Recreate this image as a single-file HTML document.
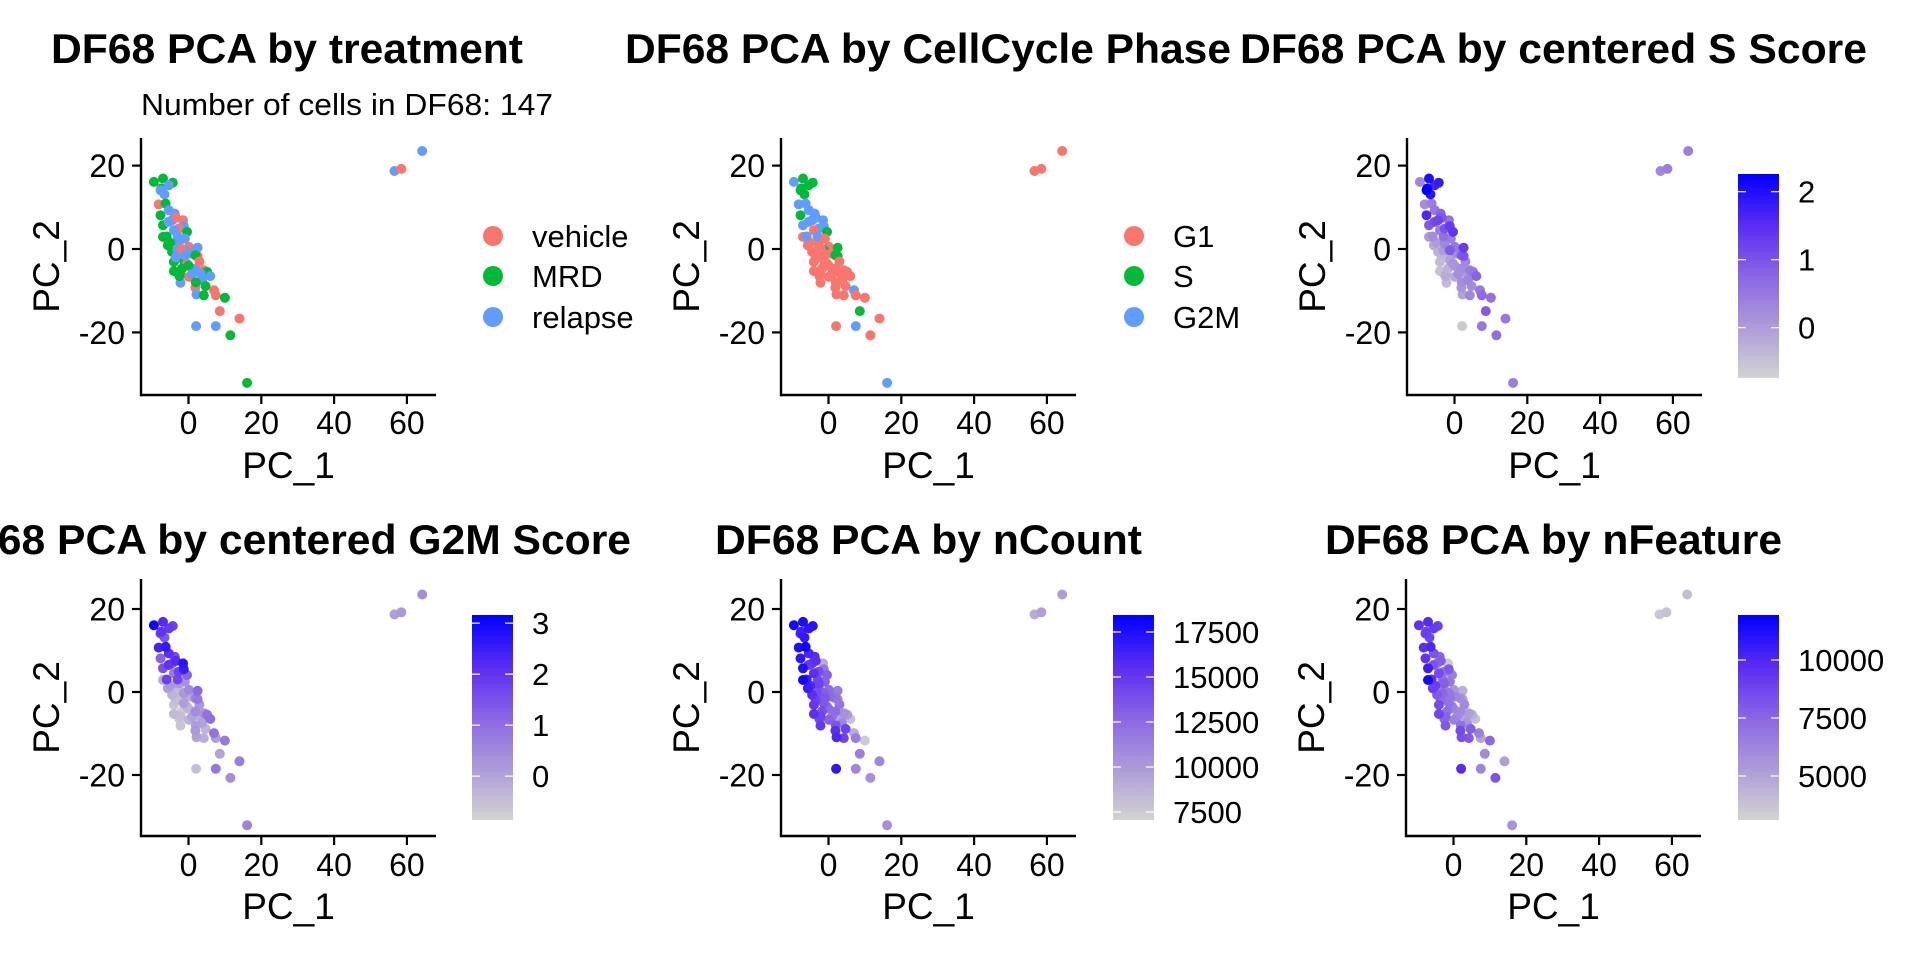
<!DOCTYPE html>
<html><head><meta charset="utf-8">
<style>
html,body{margin:0;padding:0;background:#fff;}
svg{display:block;font-family:"Liberation Sans",Arial,sans-serif;}
</style></head>
<body>
<svg id="fig" width="1920" height="960" viewBox="0 0 1920 960" xmlns="http://www.w3.org/2000/svg">
<defs>
<linearGradient id="grad" x1="0" y1="1" x2="0" y2="0">
<stop offset="0" stop-color="#d3d3d3"/>
<stop offset="0.25" stop-color="#ad9bd9"/>
<stop offset="0.5" stop-color="#8a66e4"/>
<stop offset="0.75" stop-color="#5a2cf2"/>
<stop offset="1" stop-color="#0000ff"/>
</linearGradient>
</defs>
</svg>
<script>
// ---- data (per cell) ----
const pc1 = [-9.5,-7,-4.3,-7.5,-7.7,-6.6,-5.4,-8.2,-6.3,-7.7,-5.4,-3.8,-4.5,-7,-1.5,-1.3,-2.7,-4,-7,-0.4,-2.7,-5.7,-2.7,0.1,-4.5,-1.3,2.5,-3.1,0.5,2.5,1.9,-4,-1.3,-0.4,-4,-1.8,1.9,4.2,5.1,3.3,-2.2,6,0.1,3.7,-2.2,1.9,4.7,7,2.2,4.2,7.5,10,8.6,14,2.1,7.5,11.5,16.1,56.6,58.5,64.2,-3,-2,-1,0,-3.5,1,-2.5,-5,-6,-3.5,-5.5,2,3,-1];
const pc2 = [16.1,16.9,15.9,14.5,14.1,13.1,15.3,10.7,10.9,8.1,9.3,8.5,6.9,5.7,6.9,5.5,4.9,4.5,2.9,4.1,2.1,0.9,1.3,0.5,-0.7,-0.3,0.3,-0.3,-1.1,-1.7,-1.5,-3.1,-2.7,-3.5,-5.3,-4.7,-4.7,-5.1,-5.5,-5.9,-5.9,-6.5,-6.7,-7.5,-8.1,-9.3,-8.9,-9.9,-10.9,-11.1,-11.1,-11.7,-14.9,-16.7,-18.5,-18.5,-20.7,-32.1,18.7,19.2,23.5,3,0,-1.5,-4,-2,-6,-6.5,1.5,3,7.5,6.5,-8,-3,2.5];
const treatment = ["MRD","MRD","MRD","MRD","relapse","relapse","relapse","vehicle","MRD","MRD","relapse","relapse","relapse","MRD","vehicle","relapse","vehicle","relapse","MRD","MRD","vehicle","MRD","relapse","vehicle","MRD","relapse","relapse","relapse","relapse","vehicle","MRD","MRD","MRD","vehicle","MRD","MRD","relapse","vehicle","MRD","relapse","MRD","relapse","vehicle","relapse","relapse","vehicle","MRD","vehicle","relapse","MRD","vehicle","MRD","vehicle","vehicle","relapse","relapse","MRD","MRD","relapse","vehicle","relapse","relapse","vehicle","relapse","MRD","relapse","relapse","MRD","MRD","MRD","vehicle","relapse","MRD","vehicle","relapse"];
const phase = ["G2M","S","S","S","S","S","S","G2M","G2M","S","G2M","G2M","G2M","G2M","G2M","G2M","G2M","G1","G1","S","G1","G1","G1","G1","G1","S","S","G1","G1","S","S","G1","G1","G1","G1","G1","G1","G1","G1","G1","G1","G1","G1","G1","G1","G1","G1","G2M","G1","G1","G1","G1","S","G1","G1","G2M","G1","G2M","G1","G1","G1","G2M","G1","G1","G1","G1","G1","G1","G1","G2M","G2M","G2M","G1","G1","G1"];
const sScore = [0.3,2.0,1.8,2.2,2.3,1.9,1.7,0.2,0.4,1.6,0.5,0.8,1.2,0.9,0.6,1.3,1.0,0.4,0.0,1.4,0.1,-0.2,0.3,0.5,-0.3,0.9,1.3,0.0,0.2,1.0,0.8,-0.4,-0.1,0.1,-0.5,-0.3,0.2,0.4,0.5,0.0,-0.3,0.8,-0.2,0.3,-0.4,0.1,0.2,0.5,-0.1,0.3,0.7,0.6,0.9,0.5,-0.6,0.5,0.6,0.4,0.3,0.4,0.4,0.6,0.1,-0.2,0.1,-0.4,0.2,-0.2,0.0,0.2,0.9,1.1,0.2,0.3,0.4];
const g2mScore = [3.0,2.2,1.8,2.0,1.6,1.4,1.9,2.4,2.6,1.2,2.1,1.6,1.3,1.5,2.7,2.5,1.8,0.8,-0.2,1.2,0.2,0.0,-0.4,0.5,-0.3,0.2,1.1,-0.5,-0.2,0.8,0.6,-0.6,0.1,-0.3,-0.4,-0.7,0.4,0.3,0.9,-0.2,-0.5,1.0,-0.3,0.0,-0.6,0.2,-0.3,0.9,0.0,-0.2,0.1,0.8,0.0,0.7,-0.5,0.8,0.4,0.6,0.1,0.2,0.4,1.7,-0.4,-0.5,-0.3,-0.5,0.0,-0.7,0.2,1.8,2.2,2.0,0.1,0.2,0.3];
const nCount = [17800,17600,17200,16500,16000,16800,17000,17500,18000,17000,16000,15500,15000,17500,9000,12000,14000,15500,18000,13000,14500,16500,13500,12500,15500,13000,11500,14000,12500,11000,12000,15000,13500,12000,15500,14000,12500,10500,10000,9500,14500,8000,13000,11000,15000,15500,14500,9000,16000,14500,11500,7500,11500,11000,17000,11000,10500,10500,9000,9700,9800,14000,13000,13500,12500,14500,12000,14000,16000,16500,15500,15000,13500,12000,13000];
const nFeature = [9500,9800,9000,8800,9000,8700,9200,9600,10000,9400,8200,7500,6500,10500,3500,8000,7000,8500,11500,6500,7800,9000,6000,5500,8000,6800,4500,7500,6200,5000,5800,8500,7000,6500,8800,7200,6000,5200,4500,5000,7600,3800,6300,5500,8000,8600,7800,6500,8300,8000,5000,7500,6000,5200,9800,6200,8200,5600,3600,3800,4000,7000,6500,6800,6200,7300,6000,7500,9000,9500,7800,8200,7000,6000,6800];

const xTicks = [0,20,40,60];
const yTicks = [20,0,-20];
const sTicks = [0,1,2];
const g2mTicks = [0,1,2,3];
const countTicks = [7500,10000,12500,15000,17500];
const featureTicks = [5000,7500,10000];
const treatLevels = ["vehicle","MRD","relapse"];
const phaseLevels = ["G1","S","G2M"];
const sLimits = [-0.74,2.26];
const g2mLimits = [-0.86,3.16];
const countLimits = [7056,18444];
const featureLimits = [3103,11940];

// ---- layout ----
const NS = "http://www.w3.org/2000/svg";
const svg = document.getElementById('fig');
const pal = ["#F8766D","#00BA38","#619CFF"];
function mk(tag, attrs, parent){ const e=document.createElementNS(NS,tag); for(const k in attrs) e.setAttribute(k,attrs[k]); (parent||svg).appendChild(e); return e; }
function lerp(a,b,t){return a+(b-a)*t;}
const stops=[[0,[211,211,211]],[0.25,[173,155,217]],[0.5,[138,102,228]],[0.75,[90,44,242]],[1,[0,0,255]]];
function grad(t){ t=Math.max(0,Math.min(1,t)); for(let i=1;i<stops.length;i++){ if(t<=stops[i][0]){ const a=stops[i-1],b=stops[i]; const u=(t-a[0])/(b[0]-a[0]); return 'rgb('+a[1].map((c,j)=>Math.round(lerp(c,b[1][j],u))).join(',')+')'; } } return 'rgb(0,0,255)'; }

const rows = [{xAxisY:395, zeroY:249, yScale:4.17, top:138, titleY:63, tickLabY:434, axTitleY:478},
              {xAxisY:836, zeroY:692, yScale:4.15, top:579, titleY:554, tickLabY:876, axTitleY:919}];
const panels = [
 {name:'treatment', row:0, ax:141, title:'DF68 PCA by treatment', tx:51, tw:472, kind:'cat', vals:treatment, levels:treatLevels, legX:493},
 {name:'cellcycle', row:0, ax:781, title:'DF68 PCA by CellCycle Phase', tx:625, tw:606, kind:'cat', vals:phase, levels:phaseLevels, legX:1134},
 {name:'s-score', row:0, ax:1407, title:'DF68 PCA by centered S Score', tx:1240, tw:627, kind:'cont', vals:sScore, lim:sLimits, ticks:sTicks, barX:1738},
 {name:'g2m-score', row:1, ax:141, title:'DF68 PCA by centered G2M Score', tx:-59, tw:690, kind:'cont', vals:g2mScore, lim:g2mLimits, ticks:g2mTicks, barX:472},
 {name:'ncount', row:1, ax:781, title:'DF68 PCA by nCount', tx:715, tw:427, kind:'cont', vals:nCount, lim:countLimits, ticks:countTicks, barX:1113},
 {name:'nfeature', row:1, ax:1406, title:'DF68 PCA by nFeature', tx:1325, tw:457, kind:'cont', vals:nFeature, lim:featureLimits, ticks:featureTicks, barX:1738}
];
const XS = 3.64;

panels.forEach((p)=>{
  const r = rows[p.row];
  const g = mk('g',{});
  
  
  const x0 = p.ax + 47.5;
  const xs = v => x0 + v*XS;
  const ys = v => r.zeroY - v*r.yScale;
  const right = p.ax + 295;
  const t = mk('text',{x:p.tx, y:r.titleY, 'font-size':42, 'font-weight':'bold', textLength:p.tw, lengthAdjust:'spacingAndGlyphs', fill:'#000'}, g);
  t.textContent = p.title;
  
  
  if(p.name==='treatment'){
    const st = mk('text',{x:141, y:115, 'font-size':31, textLength:412, lengthAdjust:'spacingAndGlyphs'}, g);
    st.textContent = 'Number of cells in DF68: 147';
    
    
  }
  const pts = mk('g',{}, g);
  
  
  let order = pc1.map((_,i)=>i);
  if(p.kind==='cont') order.sort((a,b)=>p.vals[a]-p.vals[b]);
  order.forEach(i=>{
    let col;
    if(p.kind==='cat') col = pal[p.levels.indexOf(p.vals[i])];
    else col = grad((p.vals[i]-p.lim[0])/(p.lim[1]-p.lim[0]));
    const c = mk('circle',{cx:xs(pc1[i]).toFixed(1), cy:ys(pc2[i]).toFixed(1), r:5, fill:col}, pts);
    
    
  });
  const xa = mk('line',{x1:p.ax, x2:right, y1:r.xAxisY, y2:r.xAxisY, stroke:'#000', 'stroke-width':2.4}, g);
  
  
  const ya = mk('line',{x1:p.ax, x2:p.ax, y1:r.top, y2:r.xAxisY+1.2, stroke:'#000', 'stroke-width':2.4}, g);
  
  
  xTicks.forEach(v=>{
    mk('line',{x1:xs(v), x2:xs(v), y1:r.xAxisY, y2:r.xAxisY+9, stroke:'#000', 'stroke-width':2.2}, g);
    const tl = mk('text',{x:xs(v), y:r.tickLabY, 'font-size':32, 'text-anchor':'middle'}, g);
    tl.textContent = v;
    
    
  });
  yTicks.forEach(v=>{
    mk('line',{x1:p.ax-9, x2:p.ax, y1:ys(v), y2:ys(v), stroke:'#000', 'stroke-width':2.2}, g);
    const tl = mk('text',{x:p.ax-16, y:ys(v)+11.5, 'font-size':32, 'text-anchor':'end'}, g);
    tl.textContent = v;
    
    
  });
  const xt = mk('text',{x:(p.ax+right)/2, y:r.axTitleY, 'font-size':37, 'text-anchor':'middle'}, g);
  xt.textContent = 'PC_1';
  
  
  const cy = (r.top+r.xAxisY)/2;
  const yt = mk('text',{x:p.ax-82, y:cy, 'font-size':37, 'text-anchor':'middle', transform:'rotate(-90 '+(p.ax-82)+' '+cy+')'}, g);
  yt.textContent = 'PC_2';
  
  
  if(p.kind==='cat'){
    p.levels.forEach((lv,k)=>{
      const ly = [236,276,317][k];
      const lg = mk('g',{}, g);
      
      
      mk('circle',{cx:p.legX, cy:ly, r:10, fill:pal[k]}, lg);
      const tx = mk('text',{x:p.legX+39, y:ly+11, 'font-size':31}, lg);
      tx.textContent = lv;
    });
  } else {
    const bTop = p.row===0 ? 174 : 615, bBot = p.row===0 ? 378 : 820;
    const bar = mk('rect',{x:p.barX, y:bTop, width:41, height:bBot-bTop, fill:'url(#grad)'}, g);
    
    
    const by = v => bBot - (v-p.lim[0])/(p.lim[1]-p.lim[0])*(bBot-bTop);
    p.ticks.forEach(v=>{
      mk('line',{x1:p.barX, x2:p.barX+8, y1:by(v), y2:by(v), stroke:'#fff', 'stroke-width':1.2}, g);
      mk('line',{x1:p.barX+33, x2:p.barX+41, y1:by(v), y2:by(v), stroke:'#fff', 'stroke-width':1.2}, g);
      const tl = mk('text',{x:p.barX+60, y:by(v)+11, 'font-size':31}, g);
      tl.textContent = v;
      
      
    });
  }
});
</script>
</body></html>
